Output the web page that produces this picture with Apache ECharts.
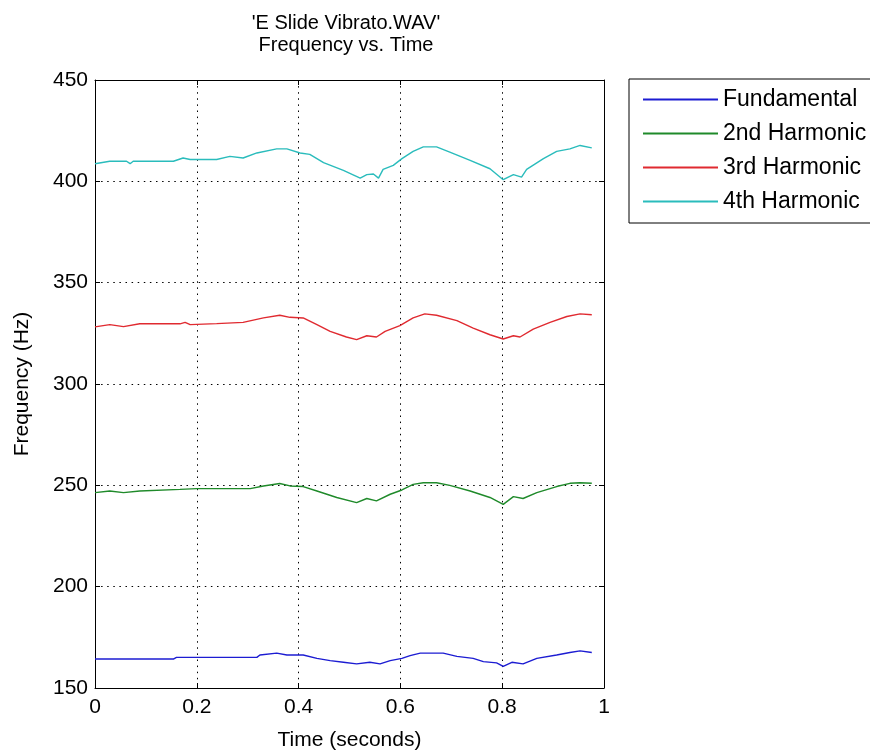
<!DOCTYPE html>
<html>
<head>
<meta charset="utf-8">
<script src="https://cdn.jsdelivr.net/npm/echarts@6/dist/echarts.min.js"></script>
<style>
  html, body { margin: 0; padding: 0; background: #fff; }
  #chart { width: 870px; height: 756px; }
</style>
</head>
<body>
<div id="chart"></div>
<script>
// Harmonic frequency tracks (time in seconds, frequency in Hz)
const seriesNames = ['Fundamental', '2nd Harmonic', '3rd Harmonic', '4th Harmonic'];

const tFund = [0, 0.154, 0.160, 0.318, 0.324, 0.357, 0.377, 0.409, 0.436, 0.462, 0.488, 0.514, 0.540, 0.560, 0.580, 0.603, 0.619, 0.639, 0.684, 0.711, 0.743, 0.763, 0.789, 0.802, 0.819, 0.841, 0.868, 0.907, 0.933, 0.953, 0.976];
const fund  = [164.3, 164.3, 165.1, 165.1, 166.3, 167.2, 166.3, 166.3, 164.6, 163.5, 162.7, 161.9, 162.7, 161.9, 163.5, 164.6, 166.0, 167.2, 167.2, 165.6, 164.6, 163.0, 162.4, 160.7, 162.7, 161.9, 164.6, 166.3, 167.5, 168.3, 167.5];

const tH2 = [0, 0.029, 0.056, 0.088, 0.167, 0.200, 0.305, 0.331, 0.363, 0.383, 0.409, 0.436, 0.475, 0.514, 0.534, 0.553, 0.580, 0.603, 0.625, 0.645, 0.671, 0.697, 0.737, 0.776, 0.802, 0.822, 0.841, 0.868, 0.907, 0.933, 0.953, 0.976];
const h2  = [246.4, 247.2, 246.4, 247.2, 248.0, 248.4, 248.4, 249.7, 250.9, 249.7, 249.4, 247.2, 244.0, 241.5, 243.5, 242.3, 245.6, 247.7, 250.5, 251.3, 251.3, 250.0, 247.2, 244.0, 240.6, 244.4, 243.5, 246.4, 249.4, 251.0, 251.3, 251.0];

const tH3 = [0, 0.029, 0.056, 0.088, 0.167, 0.177, 0.187, 0.239, 0.291, 0.331, 0.363, 0.383, 0.409, 0.436, 0.462, 0.494, 0.514, 0.534, 0.553, 0.570, 0.599, 0.625, 0.648, 0.671, 0.711, 0.743, 0.776, 0.802, 0.822, 0.835, 0.861, 0.894, 0.927, 0.953, 0.976];
const h3  = [328.2, 329.3, 328.3, 329.7, 329.7, 330.4, 329.3, 329.8, 330.4, 332.6, 333.9, 332.9, 332.6, 329.3, 326.0, 323.2, 321.9, 323.8, 323.2, 326.0, 328.8, 332.6, 334.6, 333.9, 331.3, 327.6, 324.3, 322.2, 323.8, 323.2, 327.1, 330.4, 333.3, 334.6, 334.2];

const tH4 = [0, 0.029, 0.062, 0.069, 0.075, 0.154, 0.173, 0.187, 0.239, 0.265, 0.291, 0.318, 0.357, 0.377, 0.403, 0.422, 0.449, 0.488, 0.521, 0.534, 0.547, 0.557, 0.566, 0.586, 0.603, 0.625, 0.645, 0.671, 0.697, 0.737, 0.776, 0.802, 0.822, 0.838, 0.848, 0.881, 0.907, 0.933, 0.953, 0.976];
const h4  = [408.7, 409.9, 409.9, 408.7, 409.9, 409.9, 411.5, 410.8, 410.8, 412.3, 411.5, 414.0, 416.0, 416.0, 414.0, 413.3, 409.2, 405.4, 401.6, 403.3, 403.6, 401.6, 405.9, 407.9, 411.2, 414.8, 417.0, 417.0, 414.4, 410.3, 406.2, 400.8, 403.3, 402.1, 405.9, 411.2, 414.8, 416.0, 417.7, 416.5];

const xTicks = [0, 0.2, 0.4, 0.6, 0.8, 1];
const yTicks = [150, 200, 250, 300, 350, 400, 450];

const lineColors = ['#1c1cd2', '#1f8a2a', '#e02a30', '#2abcbc'];

const pair = (ts, vs) => ts.map((t, i) => [t, vs[i]]);
const tracks = [pair(tFund, fund), pair(tH2, h2), pair(tH3, h3), pair(tH4, h4)];

const FONT = '"Liberation Sans", Arial, sans-serif';
const gridDots = { color: '#000', width: 1, type: [1.5, 4.6] };

const chart = echarts.init(document.getElementById('chart'), null, { renderer: 'canvas' });

const xBase = {
  type: 'value', min: xTicks[0], max: xTicks[xTicks.length - 1], interval: 0.2,
  axisLine: { show: true, onZero: false, lineStyle: { color: '#000', width: 1 } },
  axisTick: { show: true, inside: true, length: 5, lineStyle: { color: '#000' } }
};
const yBase = {
  type: 'value', min: yTicks[0], max: yTicks[yTicks.length - 1], interval: 50,
  axisLine: { show: true, onZero: false, lineStyle: { color: '#000', width: 1 } },
  axisTick: { show: true, inside: true, length: 5, lineStyle: { color: '#000' } }
};

chart.setOption({
  backgroundColor: '#fff',
  animation: false,
  title: {
    text: "'E Slide Vibrato.WAV'\nFrequency vs. Time",
    left: 341, top: 7, textAlign: 'center',
    textStyle: { fontFamily: FONT, fontSize: 20, fontWeight: 'normal', color: '#000', lineHeight: 22 }
  },
  legend: {
    orient: 'vertical',
    left: 629, top: 79,
    padding: [9, 40, 10, 13],
    itemWidth: 75, itemHeight: 14, itemGap: 11,
    backgroundColor: '#fff',
    borderColor: '#000', borderWidth: 1,
    itemStyle: { opacity: 0 },
    textStyle: { fontFamily: FONT, fontSize: 23, color: '#000' },
    data: seriesNames
  },
  grid: { left: 95, right: 266, top: 80, bottom: 67, containLabel: false },
  xAxis: [
    Object.assign({}, xBase, {
      position: 'bottom',
      name: 'Time (seconds)', nameLocation: 'middle', nameGap: 42,
      nameTextStyle: { fontFamily: FONT, fontSize: 21, color: '#000' },
      axisLabel: {
        margin: 9, fontFamily: FONT, fontSize: 21, color: '#000',
        formatter: v => String(v)
      },
      splitLine: { show: true, lineStyle: gridDots }
    }),
    Object.assign({}, xBase, { position: 'top', axisLabel: { show: false }, splitLine: { show: false } })
  ],
  yAxis: [
    Object.assign({}, yBase, {
      position: 'left',
      name: 'Frequency (Hz)', nameLocation: 'middle', nameGap: 62,
      nameTextStyle: { fontFamily: FONT, fontSize: 21, color: '#000' },
      axisLabel: { margin: 7, fontFamily: FONT, fontSize: 21, color: '#000' },
      splitLine: { show: true, lineStyle: gridDots }
    }),
    Object.assign({}, yBase, { position: 'right', axisLabel: { show: false }, splitLine: { show: false } })
  ],
  series: seriesNames.map((name, i) => ({
    name: name,
    type: 'line',
    xAxisIndex: 0, yAxisIndex: 0,
    data: tracks[i],
    symbol: 'none',
    smooth: false,
    lineStyle: { color: lineColors[i], width: 1.4 },
    itemStyle: { color: lineColors[i] }
  }))
});
</script>
</body>
</html>
